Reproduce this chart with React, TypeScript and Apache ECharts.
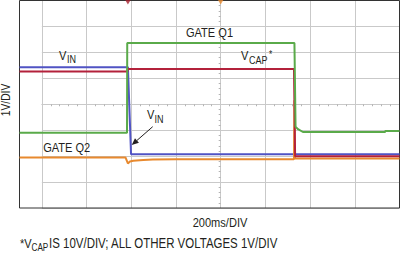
import React, { useEffect, useRef } from "react";
import * as echarts from "echarts";

// time in ms (200 ms / division), value in divisions from the bottom of the screen
const vinT = [-100, 385, 399, 1600];
const vinV = [5.43, 5.43, 2.07, 2.07];
const vcapT = [-100, 383, 384, 1128, 1133, 1600];
const vcapV = [5.26, 5.26, 5.36, 5.36, 2.0, 2.0];
const gateQ1T = [-100, 381, 382, 1130, 1135, 1146, 1168, 1535, 1537, 1600];
const gateQ1V = [2.9, 2.9, 6.36, 6.36, 3.13, 3.04, 2.93, 2.93, 2.97, 2.97];
const gateQ2T = [-100, 374, 385, 394, 409, 454, 497, 603, 1128, 1130, 1132, 1600];
const gateQ2V = [1.95, 1.95, 1.72, 1.79, 1.82, 1.85, 1.87, 1.88, 1.88, 4.15, 1.91, 1.91];
const markerT = [385, 800];
const markerColors = ["#a8202e", "#e8892e"];

const xLabel = "200ms/DIV";
const yLabel = "1V/DIV";

const FONT = '"Liberation Sans", Arial, sans-serif';
const TXT = "#231f20";
const SX = 0.82;

const zip = (t: number[], v: number[]) => t.map((x, i) => [x, v[i]]);

function txt(text: string, x: number, y: number, size: number, align = "left", extra: any = {}) {
  return {
    type: "text",
    x,
    y,
    z: 20,
    scaleX: SX,
    ...extra,
    style: {
      text,
      fill: TXT,
      fontSize: size,
      fontFamily: FONT,
      align,
      textAlign: align,
      verticalAlign: "middle",
      textVerticalAlign: "middle",
    },
  };
}

export default function App() {
  const ref = useRef<HTMLDivElement>(null);
  useEffect(() => {
    if (!ref.current) return;
    const chart = echarts.init(ref.current, undefined, { renderer: "svg" });
    const gridColor = "#c9c9c9";
    const line = (name: string, t: number[], v: number[], color: string) => ({
      name,
      type: "line",
      xAxisIndex: 0,
      yAxisIndex: 0,
      data: zip(t, v),
      showSymbol: false,
      symbol: "none",
      lineStyle: { width: 2, color },
      itemStyle: { color },
      z: 5,
    });
    chart.setOption({
      animation: false,
      backgroundColor: "#ffffff",
      grid: [
        { left: 19.5, right: 0.5, top: 0.5, bottom: 46, show: true, borderColor: "#333333", borderWidth: 1, z: 3 },
        { left: 41.853, right: 0.5, top: 0.5, bottom: 46, show: false },
      ],
      xAxis: [
        { type: "value", gridIndex: 0, min: -100, max: 1600, show: false },
        {
          type: "value",
          gridIndex: 1,
          min: -800,
          max: 800,
          interval: 200,
          axisLabel: { show: false },
          axisTick: { show: false },
          axisLine: { show: true, onZero: true, lineStyle: { color: gridColor, width: 1 } },
          splitLine: { show: true, lineStyle: { color: gridColor, width: 1 } },
          minorTick: { show: true, splitNumber: 5, length: 2, lineStyle: { color: "#b4b4b4" } },
        },
      ],
      yAxis: [
        { type: "value", gridIndex: 0, min: 0, max: 8, show: false },
        {
          type: "value",
          gridIndex: 1,
          min: -4,
          max: 4,
          interval: 1,
          axisLabel: { show: false },
          axisTick: { show: false },
          axisLine: { show: true, onZero: true, lineStyle: { color: gridColor, width: 1 } },
          splitLine: { show: true, lineStyle: { color: gridColor, width: 1 } },
          minorTick: { show: true, splitNumber: 5, length: 2, lineStyle: { color: "#b4b4b4" } },
        },
      ],
      series: [
        line("VIN", vinT, vinV, "#5053c4"),
        line("GATE Q2", gateQ2T, gateQ2V, "#e8892e"),
        line("VCAP", vcapT, vcapV, "#b3213b"),
        line("GATE Q1", gateQ1T, gateQ1V, "#5aaa4a"),
        {
          type: "scatter",
          xAxisIndex: 0,
          yAxisIndex: 0,
          clip: false,
          symbol: "triangle",
          symbolRotate: 180,
          symbolSize: [6, 5],
          symbolOffset: [0, 1.5],
          data: markerT.map((t, i) => ({ value: [t, 8], itemStyle: { color: markerColors[i] } })),
          z: 6,
        },
      ],
      graphic: [
        txt("GATE Q1", 209.5, 33, 13.5, "center"),
        txt("V", 59, 55.5, 13.5),
        txt("IN", 67, 59.5, 11),
        txt("V", 241, 56, 13.5),
        txt("CAP", 249, 60.5, 11),
        txt("*", 269, 55, 10),
        txt("V", 147, 115, 13.5),
        txt("IN", 154.5, 119, 11),
        txt("GATE Q2", 66.7, 147.2, 13.5, "center"),
        txt(yLabel, 5.5, 100, 12.5, "center", { rotation: Math.PI / 2 }),
        txt(xLabel, 220, 222.5, 13.5, "center"),
        txt("*V", 20, 243.5, 13.5),
        txt("CAP", 31.5, 248, 10),
        txt("IS 10V/DIV; ALL OTHER VOLTAGES 1V/DIV", 49, 243.5, 14),
        {
          type: "line",
          z: 20,
          shape: { x1: 152.7, y1: 126.7, x2: 137, y2: 140.4 },
          style: { stroke: TXT, lineWidth: 1 },
        },
        {
          type: "polygon",
          z: 20,
          shape: { points: [[131.7, 145], [138.94, 142.67], [135.0, 138.15]] },
          style: { fill: TXT },
        },
      ],
    });
    return () => chart.dispose();
  }, []);
  return <div ref={ref} style={{ position: "fixed", left: 0, top: 0, width: 400, height: 254 }} />;
}
